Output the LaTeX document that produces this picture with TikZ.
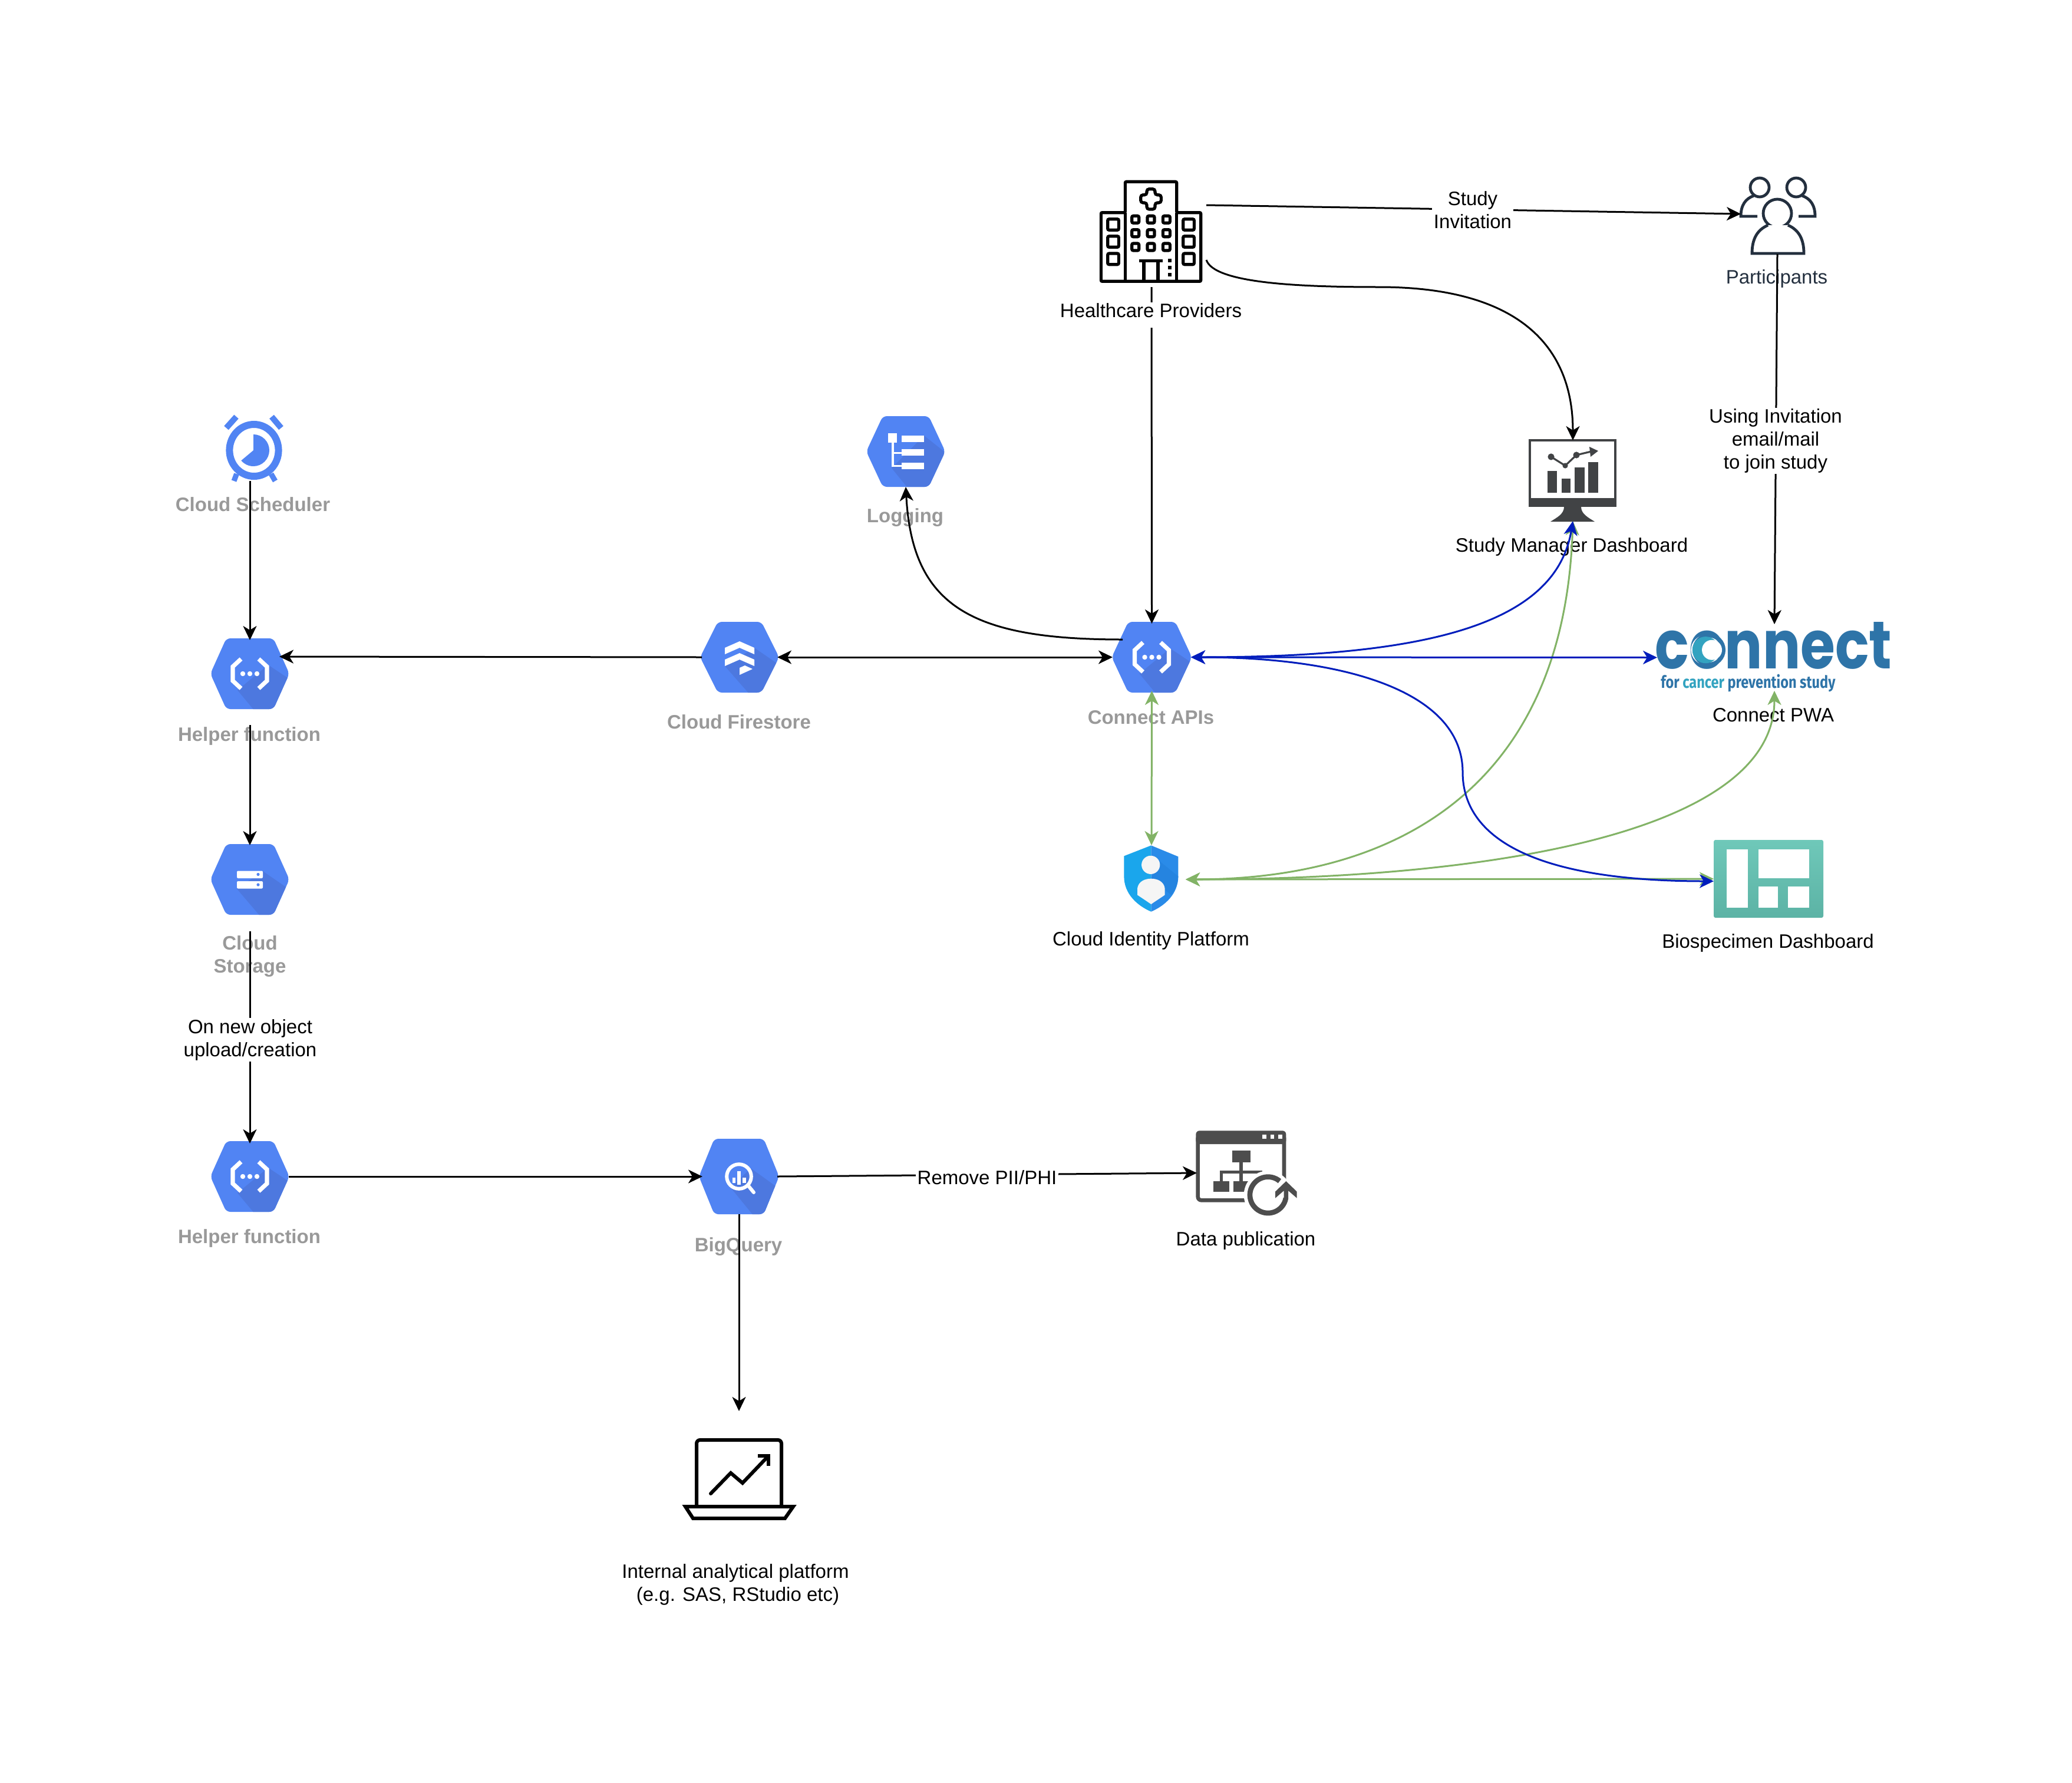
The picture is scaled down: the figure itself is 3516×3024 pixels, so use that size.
\documentclass[tikz,border=0pt]{standalone}
\usepackage{fontspec}
\setmainfont{Liberation Sans}
\newfontfamily\logofont{Poppins}
\newfontfamily\subfont{Fira Sans}
\usetikzlibrary{arrows.meta}
\definecolor{hexblue}{HTML}{5184F3}
\definecolor{hexdark}{HTML}{4D78DF}
\definecolor{greytext}{HTML}{999999}
\definecolor{greenline}{HTML}{82B366}
\definecolor{blueline}{HTML}{001DBC}
\definecolor{navy}{HTML}{232F3E}
\definecolor{monitorgrey}{HTML}{414345}
\definecolor{pubgrey}{HTML}{4D4D4D}
\definecolor{logoblue}{HTML}{2E74A8}
\definecolor{logoteal}{HTML}{33A3C0}
\tikzset{
  iconbox/.style 2 args={inner sep=0pt,outer sep=0pt,minimum width=#1,minimum height=#2},
  lbl/.style={font=\fontsize{16.5}{19.5}\selectfont,inner sep=0pt,text height=12pt,text depth=0pt,anchor=center},
  greylbl/.style={lbl,text=greytext,font=\fontsize{16.5}{19.5}\selectfont\bfseries},
  mlbl/.style={font=\fontsize{16.5}{19.5}\selectfont,inner sep=0pt,align=center,anchor=center},
  edgefill/.style={fill=white,inner xsep=1.5pt,inner ysep=1pt},
  conn/.style={line width=1.5pt,black},
  arr/.style={conn,-{Stealth[length=12pt,width=11.5pt,inset=3.5pt]}},
  biarr/.style={conn,{Stealth[length=12pt,width=11.5pt,inset=3.5pt]}-{Stealth[length=12pt,width=11.5pt,inset=3.5pt]}},
  thirdpx/.style={x=0.166667pt,y=-0.166667pt},
}
% center x, center y, half width, half height, half flat, shadow polygon, glyph
\newcommand{\gcphex}[7]{%
  \begin{scope}[shift={(#1,#2)}]
    \fill[hexblue,rounded corners=3.5pt] (-#3,0) -- (-#5,-#4) -- (#5,-#4) -- (#3,0) -- (#5,#4) -- (-#5,#4) -- cycle;
    \begin{scope}
      \clip[rounded corners=3.5pt] (-#3,0) -- (-#5,-#4) -- (#5,-#4) -- (#3,0) -- (#5,#4) -- (-#5,#4) -- cycle;
      \fill[hexdark] #6 -- cycle;
    \end{scope}
    #7
  \end{scope}}
\newcommand{\fnglyph}{%
  \draw[white,line width=3.6pt] (-15,-25) -- (-29,-12) -- (-29,12) -- (-15,25);
  \draw[white,line width=3.6pt] (15,-25) -- (29,-12) -- (29,12) -- (15,25);
  \foreach \dotx in {-12,0,12}{\fill[white] (\dotx,0) circle[radius=2.1pt];}}
\newcommand{\fnshadow}{(31,-15) -- (70,11) -- (40,64) -- (9,64) -- (-21,28)}
\begin{document}
\begin{tikzpicture}[x=0.5pt,y=-0.5pt]
\useasboundingbox (0,0) rectangle (3516,3024);
\fill[white] (0,0) rectangle (3516,3024);

% ---------- icon boxes (anchors for the connectors)
\node[iconbox={50pt}{56pt}] (sched) at (424,760) {};
\node[iconbox={66pt}{57pt}] (helperone) at (424,1143) {};
\node[iconbox={64pt}{60pt}] (firestore) at (1255,1115) {};
\node[iconbox={64pt}{58pt}] (storage) at (424,1492) {};
\node[iconbox={66pt}{56pt}] (helpertwo) at (424,1996) {};
\node[iconbox={65pt}{64pt}] (bq) at (1254,1996) {};
\node[iconbox={64pt}{60pt}] (logging) at (1537,766) {};
\node[iconbox={66.5pt}{57pt}] (apis) at (1954.5,1115) {};
\node[iconbox={93pt}{90pt}] (hosp) at (1954,397) {};
\node[iconbox={63pt}{56pt}] (part) at (3016,375) {};
\node[iconbox={75pt}{68.5pt}] (monitor) at (2669,815.5) {};
\node[iconbox={199pt}{56.5pt}] (pwa) at (3011,1115.5) {};
\node[iconbox={58pt}{58pt}] (identity) at (1954,1492) {};
\node[iconbox={93pt}{66pt}] (bios) at (3001,1491) {};
\node[iconbox={69pt}{70pt}] (datapub) at (2100,1990) {};
\node[iconbox={92pt}{67pt}] (laptop) at (1254,2510) {};

% ---------- ports and free ends
\coordinate (hospinv) at (2047,348);
\coordinate (hospdash) at (2047,441);
\coordinate (partin) at (2954,363);
\coordinate (helperonein) at (474,1114);
\coordinate (helperoneout) at (424,1230);
\coordinate (storageout) at (424,1580);
\coordinate (bqin) at (1192,1996);
\coordinate (bqend) at (1254,2394);
\coordinate (apislog) at (1905,1085);
\coordinate (biosblue) at (2908,1495);
\coordinate (hospout) at (1954,487);

% ---------- GCP hexagons
\gcphex{424}{1143}{67}{60}{40}{\fnshadow}{\fnglyph}
\gcphex{424}{1996}{67}{60}{40}{\fnshadow}{\fnglyph}
\gcphex{1954.5}{1115}{68}{60}{40}{\fnshadow}{\fnglyph}
\gcphex{424}{1492}{67}{60}{40}{(22,-14) -- (70,19) -- (40,64) -- (19,64) -- (-22,16)}{%
  \fill[white,rounded corners=1pt] (-22,-14.5) rectangle (22,-2);
  \fill[white,rounded corners=1pt] (-22,3) rectangle (22,15.5);
  \fill[hexblue] (14,-8.5) circle[radius=1.3pt];
  \fill[hexblue] (14,9) circle[radius=1.3pt];}
\gcphex{1255}{1115}{67}{60}{37}{(25,-16) -- (70,15) -- (40,64) -- (18,64) -- (-25,15)}{%
  \fill[white] (-25,-16) -- (0,-27) -- (25,-16) -- (25,-5) -- (0,-16) -- (-25,-5) -- cycle;
  \fill[white] (-25,4) -- (0,-7) -- (25,4) -- (25,15) -- (0,4) -- (-25,15) -- cycle;
  \fill[white] (0,18) -- (9,14) -- (22,20) -- (0,30) -- cycle;}
\gcphex{1537}{766}{67}{60}{39}{(31,-27) -- (70,4) -- (40,64) -- (5,64) -- (-24,28)}{%
  \fill[white] (-30,-31) rectangle (-15,-15);
  \fill[white] (-7,-27) rectangle (31,-16);
  \fill[white] (-7,-4) rectangle (31,7);
  \fill[white] (-7,19) rectangle (31,30);
  \fill[white] (-24,-15) rectangle (-20,26);
  \fill[white] (-24,1) rectangle (-7,4);
  \fill[white] (-24,23) rectangle (-7,26);}
\gcphex{1254}{1996}{68}{64}{42}{(20,-14) -- (70,22) -- (44,68) -- (26,68) -- (-14,19)}{%
  \draw[white,line width=3pt] (0,0) circle[radius=10.4pt];
  \draw[white,line width=3pt,line cap=round] (16,16) -- (25,27);
  \fill[white] (-11,2) rectangle (-6,11);
  \fill[white] (-3,-9) rectangle (3,14);
  \fill[white] (6,2) rectangle (12,11);}

% ---------- Cloud Scheduler
\begin{scope}[hexblue]
  \draw[line width=6pt] (431,764) ellipse[x radius=20.8pt,y radius=22pt];
  \fill (430,764) -- ++(90:13.5pt) arc[start angle=90,end angle=-140,radius=13.5pt] -- cycle;
  \draw[line width=5pt] (384,726) -- (401,707);
  \draw[line width=5pt] (461,707) -- (477,726);
  \draw[line width=4.5pt] (401.5,804) -- (397,816);
  \draw[line width=4.5pt] (460,804) -- (467,816);
\end{scope}

% ---------- Hospital
\begin{scope}[shift={(1860,295)},thirdpx,line width=2.6pt]
  \draw[rounded corners=1pt] (25,547) -- (25,197) -- (148,197) -- (148,40) -- (410,40) -- (410,197) -- (533,197) -- (533,547) -- cycle;
  \draw (148,197) -- (148,547);
  \draw (410,197) -- (410,547);
  \draw[rounded corners=2pt] (258,77) -- (300,77) -- (300,107) -- (331,107) -- (331,147) -- (300,147) -- (300,180) -- (258,180) -- (258,147) -- (227,147) -- (227,107) -- (258,107) -- cycle;
  \foreach \wx in {200,279,358}{\foreach \wy in {232,302,372}{
    \draw[rounded corners=1.2pt] (\wx-18,\wy-18) rectangle (\wx+18,\wy+18);}}
  \foreach \wx in {87,471}{\foreach \wy in {258,345,433}{
    \draw[rounded corners=1.2pt] (\wx-28,\wy-28) rectangle (\wx+28,\wy+28);}}
  \draw (218,442) -- (340,442);
  \draw (243,442) -- (243,540);
  \draw (315,442) -- (315,540);
  \foreach \wy in {442,477,512}{\fill (366,\wy-9) rectangle (384,\wy+9);}
\end{scope}

% ---------- Participants
\begin{scope}[navy,line width=2.4pt]
  \draw (2986,318) circle[radius=8pt];
  \draw (3048,318) circle[radius=8pt];
  \draw (2982,367) -- (2954,367) .. controls (2954,348) and (2962,337) .. (2976,332);
  \draw (3052,367) -- (3080,367) .. controls (3080,348) and (3072,337) .. (3058,332);
  \fill[white] (3016,362) circle[radius=13pt];
  \draw (3016,362) circle[radius=12pt];
  \draw[fill=white] (3000,382) .. controls (2982,390) and (2973,405) .. (2973,430) -- (3061,430) .. controls (3061,405) and (3052,390) .. (3034,382);
\end{scope}

% ---------- Monitor
\begin{scope}[monitorgrey]
  \draw[line width=2pt] (2596,747) rectangle (2741,850);
  \fill (2594,845) rectangle (2743,860);
  \fill (2654,860) -- (2683,860) .. controls (2683,872) and (2695,878) .. (2706,885) -- (2631,885) .. controls (2642,878) and (2654,872) .. (2654,860) -- cycle;
  \fill (2626,799) rectangle (2642,836);
  \fill (2650,812) rectangle (2665,836);
  \fill (2672,793) rectangle (2689,836);
  \fill (2695,784) rectangle (2712,836);
  \draw[line width=1.6pt] (2632,775) -- (2656,790) -- (2675,772) -- (2700,766);
  \fill (2632,775) circle[radius=2.8pt];
  \fill (2656,790) circle[radius=2.3pt];
  \fill (2675,772) circle[radius=2.8pt];
  \fill (2697,758) -- (2712,765) -- (2699,775) -- cycle;
\end{scope}

% ---------- Identity shield
\begin{scope}[shift={(1900,1420)},thirdpx]
  \fill[color={rgb,255:red,26;green,166;blue,236}] (160,43) -- (22,97) -- (22,200) .. controls (22,290) and (90,350) .. (160,380) -- cycle;
  \fill[color={rgb,255:red,42;green,139;blue,232}] (160,43) -- (298,100) -- (298,200) .. controls (298,290) and (230,350) .. (160,380) -- cycle;
  \fill[color={rgb,255:red,37;green,132;blue,224}] (205,125) -- (298,200) .. controls (298,240) and (280,270) .. (262,295) -- (160,210) -- cycle;
  \fill[color={rgb,255:red,245;green,245;blue,245}] (158,142) circle[radius=7.8pt];
  \fill[color={rgb,255:red,245;green,245;blue,245}] (90,295) -- (90,262) .. controls (95,225) and (130,212) .. (160,212) .. controls (190,212) and (225,225) .. (230,262) -- (230,295) -- (160,342) -- cycle;
\end{scope}

% ---------- Biospecimen dashboard
\shade[top color={rgb,255:red,111;green,200;blue,185},middle color={rgb,255:red,108;green,197;blue,182},bottom color={rgb,255:red,92;green,179;blue,165},rounded corners=1.5pt] (2908,1425) rectangle (3094,1557);
\fill[white] (2930,1441) rectangle (2966,1540);
\fill[white] (2984,1441) rectangle (3070,1490);
\fill[white] (2984,1504) rectangle (3017,1540);
\fill[white] (3034,1504) rectangle (3070,1540);

% ---------- Connect logo
\node[inner sep=0pt,anchor=base west,text=logoblue] (logotext) at (2808,1134) {\resizebox{201pt}{39.5pt}{\logofont\bfseries connect}};
\begin{scope}[shift={(2800,1020)},thirdpx]
  \fill[white] (283,248) circle[radius=12.5pt];
  \draw[logoblue,line width=3.4pt] (300,248) circle[radius=12.3pt];
  \fill[logoteal] (283,248) circle[radius=11.3pt];
  \fill[white] (315,248) circle[radius=8.5pt];
\end{scope}
\node[inner sep=0pt,anchor=base west] (logosub) at (2818,1167) {\resizebox{148pt}{11.7pt}{\subfont\bfseries\color{logoblue}for \color{logoteal}cancer \color{logoblue}prevention study}};

% ---------- Data publication
\begin{scope}[shift={(2020,1910)},thirdpx,pubgrey]
  \fill[rounded corners=3pt] (28,93) -- (28,25) -- (487,25) -- (487,93) -- cycle;
  \draw[line width=3.3pt,rounded corners=3pt] (38,60) -- (38,379) -- (477,379) -- (477,60);
  \fill[white] (366,45) rectangle (386,65);
  \fill[white] (407,45) rectangle (427,65);
  \fill[white] (447,45) rectangle (467,65);
  \fill (212,127) rectangle (305,187);
  \fill (250,187) rectangle (266,290);
  \fill (150,228) rectangle (365,242);
  \fill (150,228) rectangle (165,290);
  \fill (117,282) rectangle (197,335);
  \fill (218,282) rectangle (295,335);
  \fill[white] (395,352) circle[radius=20.5pt];
  \draw[line width=4.35pt] (395,352) ++(50:15.35pt) arc[start angle=50,end angle=350,radius=15.35pt];
  \fill (487,282) -- (542,335) -- (542,368) -- (498,330) -- (498,372) -- (476,372) -- (476,330) -- (432,368) -- (432,335) -- cycle;
\end{scope}

% ---------- Laptop
\begin{scope}[line width=3pt,black]
  \draw[rounded corners=3pt] (1182,2556) -- (1182,2443) -- (1326,2443) -- (1326,2556);
  \draw (1163,2556) -- (1346,2556) -- (1332,2576) -- (1176,2576) -- cycle;
  \draw[line cap=round] (1206,2534) -- (1240,2499) -- (1260,2516) -- (1303,2471);
  \draw (1286,2470) -- (1304,2470) -- (1304,2487);
\end{scope}

% ---------- Plain labels (connectors run over them)
\node[greylbl] (lblsched) at (429,855) {Cloud Scheduler};
\node[greylbl] (lblhelpone) at (423,1245) {Helper function};
\node[greylbl] (lblfire) at (1254,1224) {Cloud Firestore};
\node[mlbl,text=greytext,font=\fontsize{16.5}{19.5}\selectfont\bfseries] (lblstorage) at (424,1623) {Cloud\\Storage};
\node[greylbl] (lblhelptwo) at (423,2097) {Helper function};
\node[greylbl] (lblbq) at (1253,2111) {BigQuery};
\node[greylbl] (lbllog) at (1536,874) {Logging};
\node[greylbl] (lblapis) at (1953,1216) {Connect APIs};
\node[lbl] (lblpwa) at (3009,1212) {Connect PWA};
\node[lbl] (lblid) at (1953,1592) {Cloud Identity Platform};
\node[lbl] (lblbios) at (3000,1596) {Biospecimen Dashboard};
\node[lbl,text=navy] (lblpart) at (3015,469) {Participants};
\node[lbl] (lblmon) at (2667,924) {Study Manager Dashboard};
\node[lbl] (lbldata) at (2114,2101) {Data publication};
\node[mlbl] (lblinternal) at (1248,2688) {Internal analytical platform\\\hspace*{4pt}(e.g. SAS, RStudio etc)};

% ---------- Connectors
\draw[arr] (sched.south) -- (helperone.north);
\draw[arr] (firestore.west) -- (helperonein);
\draw[biarr] (firestore.east) -- (apis.west);
\draw[arr] (helperoneout) -- (storage.north);
\draw[arr] (storageout) -- (helpertwo.north);
\draw[arr] (helpertwo.east) -- (bqin);
\draw[arr] (bq.east) -- (datapub.west);
\draw[arr] (bq.south) -- (bqend);
\draw[arr] (hospinv) -- (partin);
\draw[arr] (hospdash) .. controls (2060,480) and (2200,487) .. (2340,487) .. controls (2580,487) and (2669,590) .. (monitor.north);
\draw[arr] (hospout) -- (apis.north);
\draw[arr] (part.south) -- (pwa.north);
\draw[arr] (apislog) .. controls (1650,1085) and (1548,1030) .. (logging.south);

\begin{scope}[greenline]
  \draw[biarr,greenline] (apis.south) -- (identity.north);
  \draw[biarr,greenline] (identity.east) -- (bios.west);
  \draw[biarr,greenline] (identity.east) .. controls (2500,1492) and (3011,1420) .. (pwa.south);
  \draw[biarr,greenline] (identity.east) .. controls (2400,1492) and (2655,1310) .. (monitor.south);
\end{scope}
\begin{scope}[blueline]
  \draw[biarr,blueline] (apis.east) .. controls (2420,1115) and (2640,1060) .. (monitor.south);
  \draw[biarr,blueline] (apis.east) -- (pwa.west);
  \draw[biarr,blueline] (apis.east) .. controls (2300,1115) and (2482,1180) .. (2482,1310) .. controls (2482,1420) and (2600,1495) .. (biosblue);
\end{scope}

% ---------- Edge labels (white background breaks the line)
\node[lbl,fill=white,inner xsep=0pt,text height=13pt,text depth=8.5pt] (lblhosp) at (1953,534) {Healthcare Providers};
\node[mlbl,edgefill] (lblinv) at (2499,356) {Study\\Invitation};
\node[mlbl,edgefill] (lblusing) at (3013,748) {Using Invitation\\email/mail\\to join study};
\node[mlbl,edgefill] (lblnew) at (424.5,1764) {On new object\\upload/creation};
\node[mlbl,edgefill] (lblremove) at (1675,1998) {Remove PII/PHI};
\end{tikzpicture}
\end{document}
